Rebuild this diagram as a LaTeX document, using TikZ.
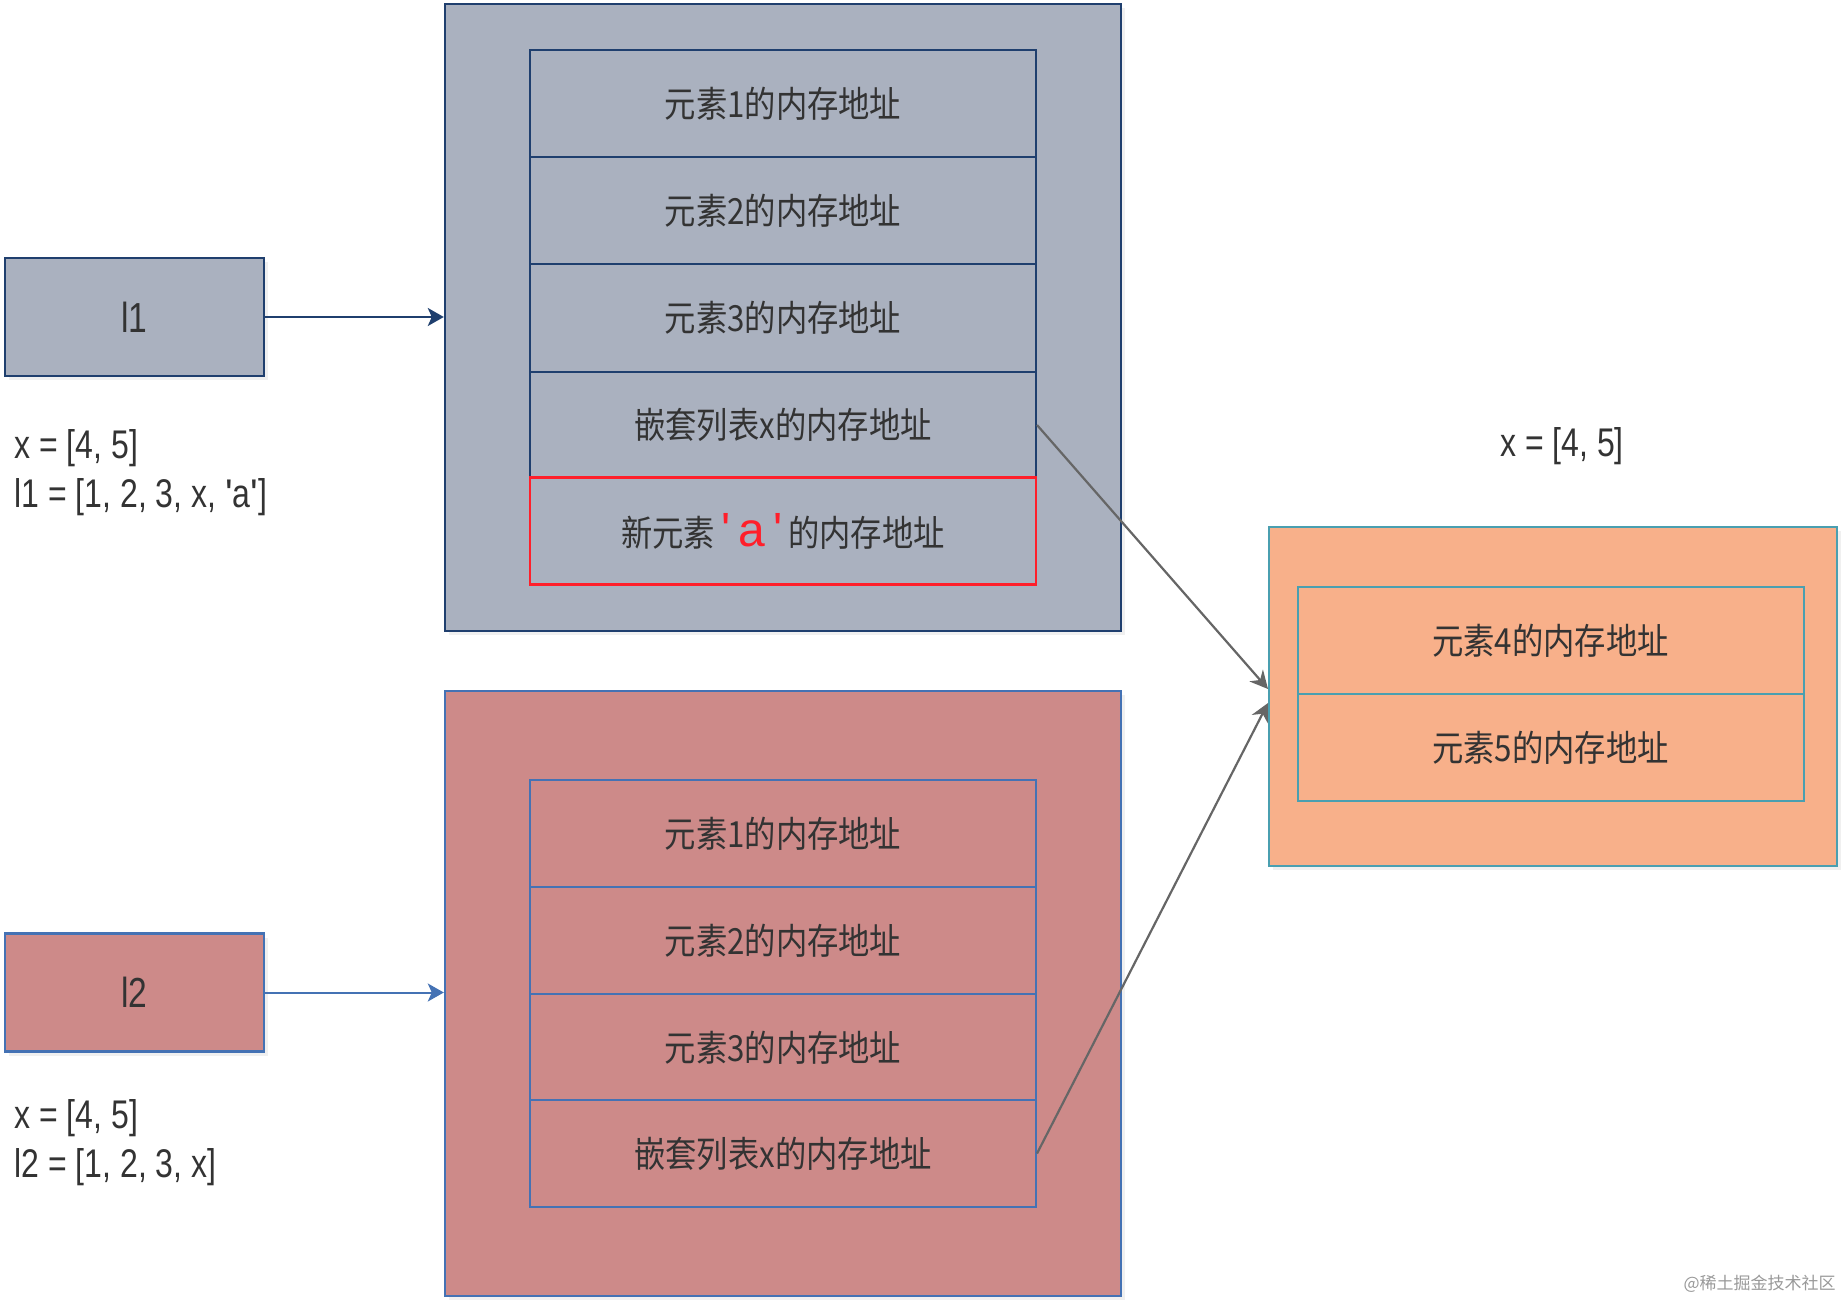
\documentclass[tikz,border=0pt]{standalone}
\usepackage{fontspec}
\setmainfont{Liberation Sans}
\setmonofont{Liberation Sans}
\newfontfamily\cjk[FakeStretch=0.87]{Noto Sans CJK SC}
\newfontfamily\plaincjk{Noto Sans CJK SC}
\newfontfamily\narrow[FakeStretch=0.8]{Liberation Sans}
\usetikzlibrary{arrows.meta,shadows}
\definecolor{grayfill}{HTML}{AAB1BF}
\definecolor{navy}{HTML}{1F3F6E}
\definecolor{redfill}{HTML}{CD8A89}
\definecolor{blueline}{HTML}{4472B4}
\definecolor{orangefill}{HTML}{F8B08A}
\definecolor{tealline}{HTML}{4A9FB0}
\definecolor{arrowgray}{HTML}{666666}
\definecolor{newred}{HTML}{FF1F2A}
\definecolor{txt}{HTML}{333333}
\begin{document}
\begin{tikzpicture}[x=0.5pt,y=-0.5pt,
  shadowed/.style={drop shadow={opacity=0.12,shadow xshift=2pt,shadow yshift=-2pt}},
  outerbox/.style={draw,line width=1.2pt,inner sep=0pt,shadowed},
  cellbox/.style={draw,line width=1pt,minimum width=253pt,minimum height=53.5pt,inner sep=0pt,
    font=\cjk\fontsize{18}{20}\selectfont,text=txt},
  varbox/.style={draw,line width=1.2pt,minimum width=129.5pt,minimum height=59pt,inner sep=0pt,
    font=\narrow\fontsize{21}{22}\selectfont,text=txt,shadowed},
  codetext/.style={align=left,inner sep=0pt,font=\narrow\fontsize{20}{24.5}\selectfont,text=txt},
  navyarrow/.style={draw=navy,line width=1pt,-{Stealth[length=8pt,width=9pt,inset=2pt]}},
  bluearrow/.style={draw=blueline,line width=1pt,-{Stealth[length=8pt,width=9pt,inset=2pt]}},
  grayarrow/.style={draw=arrowgray,line width=1.1pt,-{Stealth[length=9pt,width=9pt,inset=3pt]}}
]
\useasboundingbox (0,0) rectangle (1842,1300);

% top list l1
\node[outerbox,fill=grayfill,draw=navy,minimum width=338pt,minimum height=313.5pt] (top) at (783,317.5) {};
\node[cellbox,fill=grayfill,draw=navy] (a1) at (783,104) {元素1的内存地址};
\node[cellbox,fill=grayfill,draw=navy] (a2) at (783,211) {元素2的内存地址};
\node[cellbox,fill=grayfill,draw=navy] (a3) at (783,318) {元素3的内存地址};
\node[cellbox,fill=grayfill,draw=navy] (a4) at (783,425) {嵌套列表x的内存地址};
\node[cellbox,fill=grayfill,draw=newred,line width=1.3pt] (a5) at (783,531)
  {新元素\,{\color{newred}\fontsize{24}{24}\selectfont\ttfamily'\,a\,'}\,的内存地址};

\node[varbox,fill=grayfill,draw=navy] (l1) at (134.5,317) {l1};
\node[codetext,anchor=north west] (c1) at (14,429) {x = [4, 5]\\l1 = [1, 2, 3, x, {\ttfamily'}a{\ttfamily'}]};

% bottom list l2
\node[outerbox,fill=redfill,draw=blueline,minimum width=338pt,minimum height=302.5pt] (bot) at (783,993.5) {};
\node[cellbox,fill=redfill,draw=blueline] (b1) at (783,833.5) {元素1的内存地址};
\node[cellbox,fill=redfill,draw=blueline] (b2) at (783,940.5) {元素2的内存地址};
\node[cellbox,fill=redfill,draw=blueline] (b3) at (783,1047.5) {元素3的内存地址};
\node[cellbox,fill=redfill,draw=blueline] (b4) at (783,1153.5) {嵌套列表x的内存地址};

\node[varbox,fill=redfill,draw=blueline] (l2) at (134.5,992.5) {l2};
\node[codetext,anchor=north west] (c2) at (14,1099) {x = [4, 5]\\l2 = [1, 2, 3, x]};

% nested list x
\node[outerbox,fill=orangefill,draw=tealline,minimum width=284pt,minimum height=169.5pt] (xbox) at (1553,696.5) {};
\node[cellbox,fill=orangefill,draw=tealline] (x4) at (1550.5,640.5) {元素4的内存地址};
\node[cellbox,fill=orangefill,draw=tealline] (x5) at (1550.5,747.5) {元素5的内存地址};
\node[inner sep=0pt,font=\narrow\fontsize{20}{22}\selectfont,text=txt] (xlabel) at (1562,446) {x = [4, 5]};

\coordinate (t1) at (1268,689);
\coordinate (t2) at (1268,703);

% connectors
\draw[navyarrow] (l1.east) -- (l1.east -| top.west);
\draw[bluearrow] (l2.east) -- (l2.east -| bot.west);
\draw[grayarrow] (a4.east) -- (t1);
\draw[grayarrow] (b4.east) -- (t2);

% watermark
\node[anchor=east,inner sep=0pt,font=\plaincjk\fontsize{8.5}{10}\selectfont,text=black!40] (wm) at (1836,1284) {@稀土掘金技术社区};
\end{tikzpicture}
\end{document}
